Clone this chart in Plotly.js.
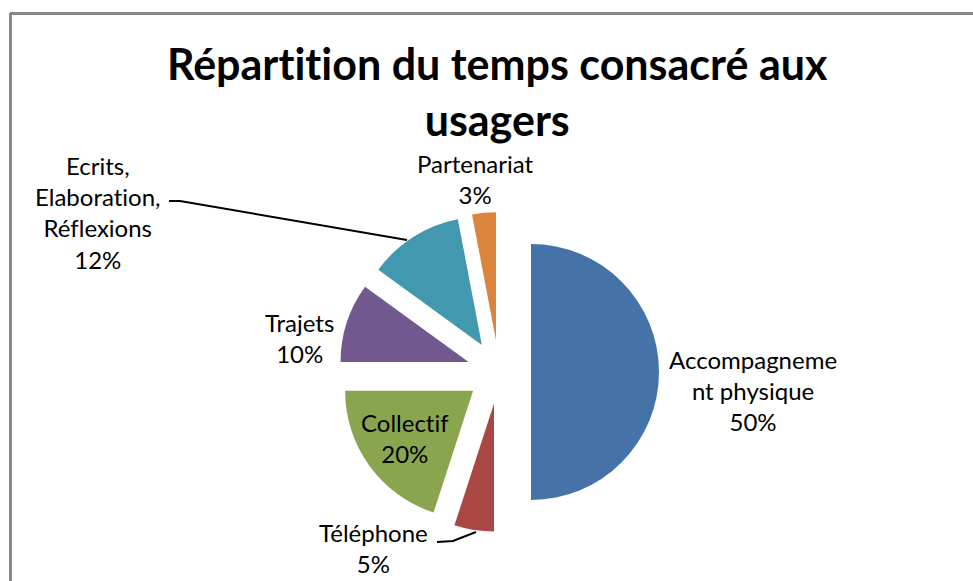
<!DOCTYPE html>
<html>
<head>
<meta charset="utf-8">
<script src="https://cdn.plot.ly/plotly-3.0.1.min.js"></script>
<style>html,body{margin:0;padding:0;background:#fff;}#chart{width:973px;height:581px;}
svg text{font-variant-ligatures:none;font-feature-settings:"liga" 0;}</style>
</head>
<body>
<div id="chart"></div>
<script>
// ---- data ----
var categories = ['Accompagnement physique', 'Téléphone', 'Collectif', 'Trajets', 'Ecrits, Elaboration, Réflexions', 'Partenariat'];
var displayLabels = ['Accompagneme<br>nt physique', 'Téléphone', 'Collectif', 'Trajets', 'Ecrits,<br>Elaboration,<br>Réflexions', 'Partenariat'];
var values = [50, 5, 20, 10, 12, 3];
var colors = ['#4572A7', '#AA4643', '#89A54E', '#71588F', '#4198AF', '#DB843D'];

var W = 973, H = 581;
function px(x) { return x / W; }
function py(y) { return 1 - y / H; }

var total = values.reduce(function (a, b) { return a + b; }, 0);
function pct(v) { return Math.round(v / total * 100) + '%'; }

// label centres (pixels)
var labelPos = [[753, 390], [373, 548], [405, 438], [299, 338], [98, 212], [475, 179]];

var annotations = categories.map(function (c, i) {
  return {
    xref: 'paper', yref: 'paper',
    x: px(labelPos[i][0]), y: py(labelPos[i][1]),
    xanchor: 'center', yanchor: 'middle',
    text: displayLabels[i] + '<br>' + pct(values[i]),
    showarrow: false,
    align: 'center',
    font: {family: 'Lato, sans-serif', size: 24, color: '#000'}
  };
});

function pathOf(pts) {
  return pts.map(function (p, i) { return (i ? 'L' : 'M') + px(p[0]) + ',' + py(p[1]); }).join(' ');
}

var shapes = [
  {type: 'line', xref: 'paper', yref: 'paper', x0: px(10), y0: py(13.5), x1: px(973), y1: py(13.5), line: {color: '#878787', width: 3}},
  {type: 'line', xref: 'paper', yref: 'paper', x0: px(10.5), y0: py(13), x1: px(10.5), y1: py(581), line: {color: '#878787', width: 3}},
  {type: 'path', xref: 'paper', yref: 'paper', path: pathOf([[169, 201], [180, 201], [407, 240]]), line: {color: '#000', width: 2}},
  {type: 'path', xref: 'paper', yref: 'paper', path: pathOf([[437, 542], [453, 541], [476, 532]]), line: {color: '#000', width: 2}}
];

var trace = {
  type: 'pie',
  labels: categories,
  values: values,
  sort: false,
  direction: 'clockwise',
  rotation: 0,
  pull: values.map(function () { return 0.25; }),
  marker: {colors: colors, line: {width: 0}},
  textinfo: 'none',
  hoverinfo: 'label+percent',
  showlegend: false,
  domain: {x: [px(299), px(699)], y: [py(532), py(212)]}
};

var layout = {
  width: W, height: H,
  margin: {l: 0, r: 0, t: 0, b: 0},
  paper_bgcolor: '#fff',
  showlegend: false,
  title: {
    text: '<b>Répartition du temps consacré aux<br>usagers</b>',
    font: {family: 'Lato, sans-serif', size: 43, color: '#000'},
    x: 0.511, xanchor: 'center',
    y: py(80), yref: 'container', yanchor: 'top'
  },
  annotations: annotations,
  shapes: shapes
};

Plotly.newPlot('chart', [trace], layout, {displayModeBar: false, staticPlot: true});
</script>
</body>
</html>
